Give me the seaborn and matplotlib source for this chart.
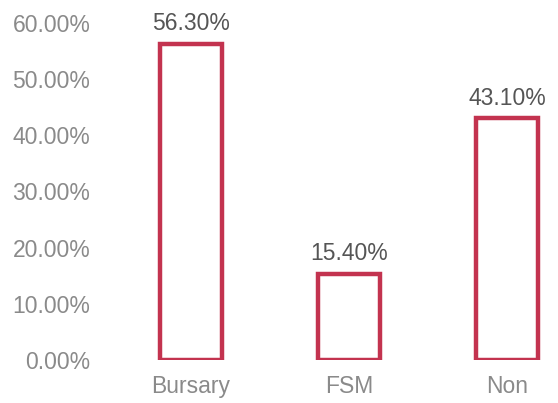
import matplotlib
matplotlib.use("Agg")
import matplotlib.pyplot as plt
import seaborn as sns
import pandas as pd
from matplotlib.ticker import PercentFormatter

categories = ["Bursary", "FSM", "Non"]
values = [56.3, 15.4, 43.1]
yticks = [0, 10, 20, 30, 40, 50, 60]

sns.set_style("white")
plt.rcParams['font.family'] = ['Liberation Sans', 'DejaVu Sans']

df = pd.DataFrame({"group": categories, "pct": values})

fig = plt.figure(figsize=(5.58, 4.03), dpi=100)
ax = fig.add_axes([100 / 558, 1 - 360 / 403, 458 / 558, (360 - 23) / 403])

sns.barplot(data=df, x="group", y="pct", ax=ax, width=0.39,
            fill=False, edgecolor="#c3334f", linewidth=3.2)

ax.set_xlim(-0.576, 2.323)
ax.set_ylim(0, 60)
ax.set_yticks(yticks)
ax.yaxis.set_major_formatter(PercentFormatter(decimals=2))
ax.tick_params(axis='both', length=0, labelsize=16.5, labelcolor="#8a8a8a")
ax.tick_params(axis='y', pad=7)
ax.tick_params(axis='x', pad=11)
ax.set_xlabel("")
ax.set_ylabel("")
sns.despine(ax=ax, left=True, bottom=True)

for i, v in enumerate(values):
    ax.annotate(f"{v:.2f}%", (i, v), xytext=(0, 6), textcoords="offset points",
                ha="center", va="bottom", fontsize=16.5, color="#555555",
                annotation_clip=False)

fig.savefig("out.png", dpi=100)
